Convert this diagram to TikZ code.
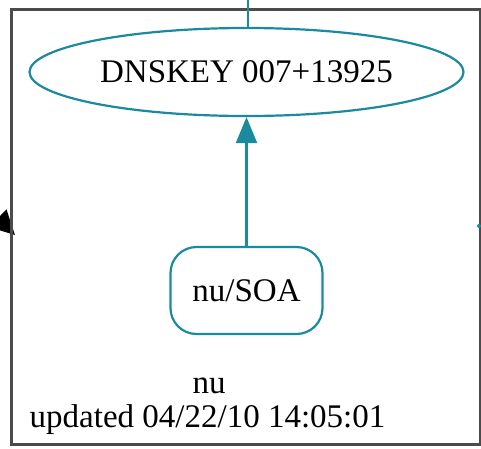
\documentclass[tikz,border=0pt]{standalone}
\usepackage{fontspec}
\setmainfont{Liberation Serif}
\usetikzlibrary{shapes.geometric,arrows.meta}
\definecolor{dnsteal}{RGB}{28,138,158}
\definecolor{clustergray}{RGB}{75,75,75}
\tikzset{
  every node/.style={font=\fontsize{33}{34}\selectfont, text=black},
  keynode/.style={ellipse, draw=dnsteal, line width=2.2pt, inner sep=0pt,
    minimum width=434pt, minimum height=88pt},
  rrnode/.style={rectangle, rounded corners=26pt, draw=dnsteal, line width=2.2pt,
    inner sep=0pt, minimum width=152pt, minimum height=87pt},
  tealedge/.style={draw=dnsteal, line width=2.2pt},
  tealtip/.style={-{Triangle[length=26pt,width=21pt]}, tealedge, fill=dnsteal},
  clusterbox/.style={draw=clustergray, line width=2.5pt},
}
\begin{document}
\begin{tikzpicture}[x=1pt, y=-1pt]
  \useasboundingbox (0,0) rectangle (481,448);
  \begin{scope}
    \clip (0,0) rectangle (481,448);
    % incoming arrow from the left, under the cluster frame
    \coordinate (leftfrom) at (-25,196);
    \coordinate (lefttip) at (15,235);
    \draw[black, line width=3pt, -{Triangle[length=24pt,width=24pt]}] (leftfrom) -- (lefttip);
    % zone cluster
    \draw[clusterbox] (11.5,9.5) rectangle (480,444.5);
    % nodes
    \node[keynode] (key) at (246.5,72) {DNSKEY 007+13925};
    \node[rrnode] (soa) at (246.5,290.5) {nu/SOA};
    \node[anchor=base] (lblname) at (209,393) {nu};
    \node[anchor=base] (lbldate) at (207.5,427) {updated 04/22/10 14:05:01};
    % edges
    \coordinate (topin) at (248,-5);
    \draw[tealedge] (topin) -- (topin |- key.north);
    \draw[tealtip] (soa.north) -- (key.south);
    \coordinate (rightout) at (479,226);
    \coordinate (rightfar) at (490,226);
    \draw[tealedge] (rightout) -- (rightfar);
    \fill[dnsteal] (rightout) circle (2pt);
  \end{scope}
\end{tikzpicture}
\end{document}
